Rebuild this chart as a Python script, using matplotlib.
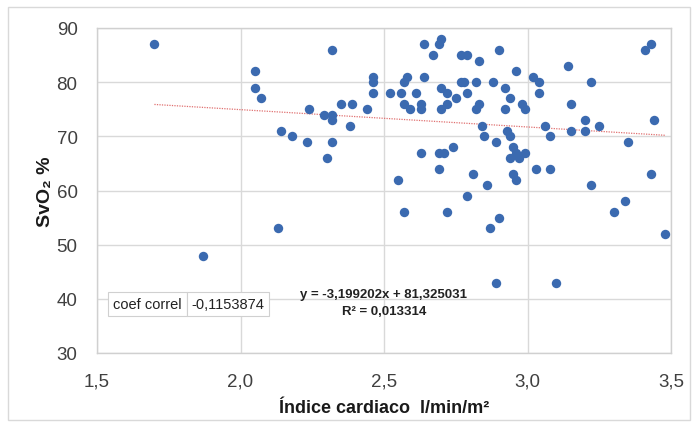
import matplotlib
matplotlib.use("Agg")
import matplotlib.pyplot as plt
import numpy as np
from matplotlib.patches import Rectangle

# ---- data ----
indice_cardiaco = [1.70, 1.87, 2.05, 2.05, 2.07, 2.13, 2.14, 2.18, 2.23, 2.24, 2.29, 2.30,
                   2.32, 2.32, 2.32, 2.32, 2.35, 2.38, 2.39, 2.44, 2.46, 2.46, 2.46, 2.52,
                   2.55, 2.56, 2.57, 2.57, 2.57, 2.58, 2.59, 2.61, 2.63, 2.63, 2.63, 2.64,
                   2.64, 2.67, 2.69, 2.69, 2.69, 2.70, 2.70, 2.70, 2.71, 2.72, 2.72, 2.72,
                   2.74, 2.75, 2.77, 2.77, 2.78, 2.79, 2.79, 2.79, 2.81, 2.82, 2.82, 2.83,
                   2.83, 2.84, 2.85, 2.86, 2.87, 2.88, 2.89, 2.89, 2.90, 2.90, 2.92, 2.92,
                   2.93, 2.94, 2.94, 2.94, 2.95, 2.95, 2.96, 2.96, 2.96, 2.97, 2.98, 2.99,
                   2.99, 3.02, 3.03, 3.04, 3.04, 3.06, 3.08, 3.08, 3.10, 3.14, 3.15, 3.15,
                   3.20, 3.20, 3.22, 3.22, 3.25, 3.30, 3.34, 3.35, 3.41, 3.43, 3.43, 3.44,
                   3.48]
svo2 = [87, 48, 82, 79, 77, 53, 71, 70, 69, 75, 74, 66,
        86, 74, 73, 69, 76, 72, 76, 75, 81, 80, 78, 78,
        62, 78, 80, 56, 76, 81, 75, 78, 76, 75, 67, 87,
        81, 85, 87, 64, 67, 88, 79, 75, 67, 78, 76, 56,
        68, 77, 85, 80, 80, 85, 78, 59, 63, 80, 75, 84,
        76, 72, 70, 61, 53, 80, 69, 43, 86, 55, 79, 75,
        71, 77, 70, 66, 68, 63, 82, 67, 62, 66, 76, 75,
        67, 81, 64, 80, 78, 72, 70, 64, 43, 83, 71, 76,
        73, 71, 80, 61, 72, 56, 58, 69, 86, 87, 63, 73,
        52]
slope = -3.199202
intercept = 81.325031
coef_label = "coef correl"
coef_value = "-0,1153874"
eq_text = "y = -3,199202x + 81,325031"
r2_text = "R² = 0,013314"
xticks = [1.5, 2.0, 2.5, 3.0, 3.5]
xtick_labels = ["1,5", "2,0", "2,5", "3,0", "3,5"]
yticks = [30, 40, 50, 60, 70, 80, 90]
xlabel = "Índice cardiaco  l/min/m²"
ylabel = "SvO₂ %"

plt.rcParams["font.family"] = ["Liberation Sans", "DejaVu Sans"]

fig = plt.figure(figsize=(6.98, 4.27), dpi=100)
fig.patch.set_facecolor("white")
# chart-area border
fig.add_artist(Rectangle((8 / 698, 6 / 427), 682 / 698, 413 / 427, transform=fig.transFigure,
                         fill=False, edgecolor="#d9d9d9", linewidth=1.0))

ax = fig.add_axes([97 / 698, 1 - 354 / 427, (671 - 97) / 698, (354 - 29) / 427])
ax.set_xlim(1.5, 3.5)
ax.set_ylim(30, 90)
ax.set_xticks(xticks)
ax.set_xticklabels(xtick_labels)
ax.set_yticks(yticks)
ax.grid(True, color="#d9d9d9", linewidth=1.0)
ax.set_axisbelow(True)
for s in ax.spines.values():
    s.set_color("#d0d0d0")
    s.set_linewidth(1.0)
ax.tick_params(axis="y", length=0, labelsize=13.5, colors="#404040", pad=14)
ax.tick_params(axis="x", length=0, labelsize=13.5, colors="#404040", pad=14)

ax.scatter(indice_cardiaco, svo2, s=46, color="#3b6ab0", zorder=3, linewidths=0)

xs = np.array([min(indice_cardiaco), max(indice_cardiaco)])
ax.plot(xs, slope * xs + intercept, linestyle=(0, (1, 1)), color="#e07070", linewidth=0.9, zorder=2)

ax.set_xlabel(xlabel, fontsize=13, fontweight="bold", color="#1a1a1a", labelpad=7)
ax.set_ylabel(ylabel, fontsize=14, fontweight="bold", color="#1a1a1a", labelpad=2)

# coef correl table
tbl = ax.table(cellText=[[coef_label, coef_value]], cellLoc="center",
               bbox=[(1.54 - 1.5) / 2, (36.9 - 30) / 60, (2.098 - 1.54) / 2, (41.2 - 36.9) / 60],
               colWidths=[0.49, 0.51])
tbl.auto_set_font_size(False)
for (r, c), cell in tbl.get_celld().items():
    cell.set_edgecolor("#d0d0d0")
    cell.set_linewidth(0.8)
    cell.get_text().set_fontsize(10.5)
    cell.get_text().set_color("#222222")
tbl.set_zorder(4)

ax.text(2.50, 40.9, eq_text, ha="center", va="center", fontsize=9.5, fontweight="bold",
        color="#222222")
ax.text(2.50, 37.8, r2_text, ha="center", va="center", fontsize=9.5, fontweight="bold",
        color="#222222")

fig.savefig("out.png", dpi=100, facecolor="white")
